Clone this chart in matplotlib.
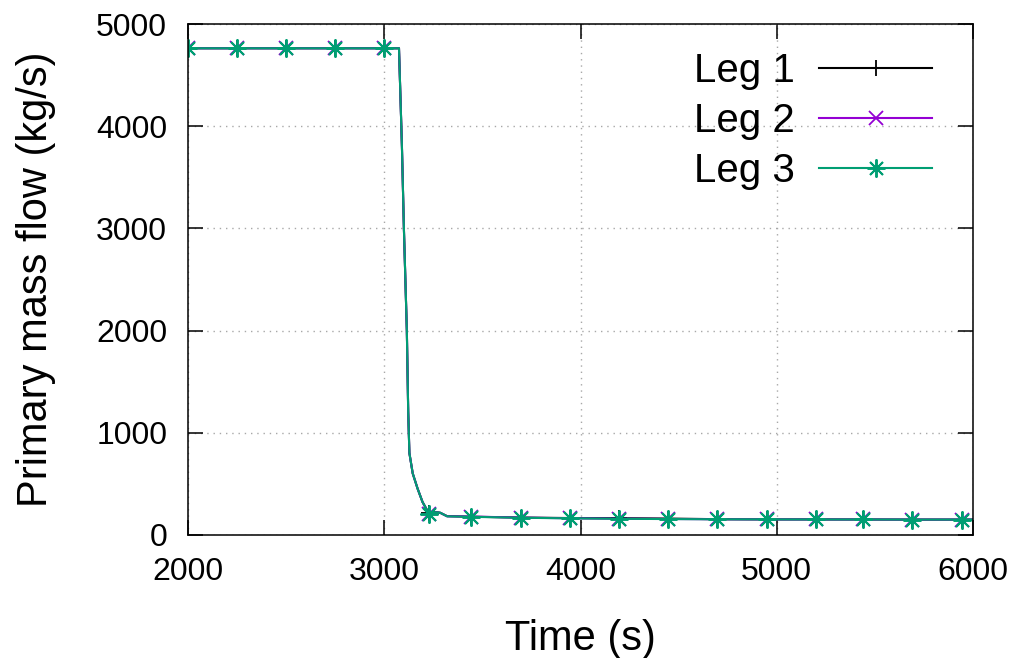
import numpy as np
import matplotlib.pyplot as plt

plt.rcParams['font.family'] = ['Liberation Sans', 'DejaVu Sans']

# time (s) and primary mass flow (kg/s)
time = [2000, 2250, 2500, 2750, 3000, 3075, 3090, 3100, 3115, 3122, 3128, 3145,
        3170, 3195, 3228, 3260, 3285, 3320, 3442, 3697, 3946, 4196, 4446, 4696,
        4950, 5200, 5440, 5690, 5944, 6000]
leg1 = [4765, 4765, 4765, 4765, 4765, 4765, 3800, 3000, 2000, 1200, 800, 600,
        450, 320, 208, 222, 215, 182, 176, 168, 163, 162, 158, 152,
        150, 150, 149, 148, 148, 148]
leg2 = [4765, 4765, 4765, 4765, 4765, 4765, 3800, 3000, 2000, 1200, 800, 600,
        450, 320, 200, 220, 214, 180, 178, 167, 161, 157, 154, 151,
        150, 149, 149, 148, 148, 148]
leg3 = [4765, 4765, 4765, 4765, 4765, 4765, 3800, 3000, 2000, 1200, 800, 600,
        450, 320, 205, 220, 215, 180, 175, 166, 160, 156, 153, 151,
        150, 149, 149, 148, 148, 148]
marker_times = [2000, 2250, 2500, 2750, 3000, 3228, 3442, 3697, 3946, 4196,
                4446, 4696, 4950, 5200, 5440, 5690, 5944]
labels = ['Leg 1', 'Leg 2', 'Leg 3']

marks = [time.index(t) for t in marker_times]

fig = plt.figure(figsize=(10.17, 6.58), dpi=100)
ax = fig.add_axes([0.1849, 0.1874, 0.7718, 0.7757])

ax.plot(time, leg1, color='black', lw=1.5, marker='+', ms=12, mew=1.3,
        markevery=marks, label=labels[0])
ax.plot(time, leg2, color='#9400d3', lw=1.5, marker='x', ms=10, mew=1.3,
        markevery=marks, label=labels[1])
ax.plot(time, leg3, color='#009e73', lw=1.5, marker=(8, 2, 0), ms=13, mew=1.4,
        markevery=marks, label=labels[2])

ax.set_xlim(2000, 6000)
ax.set_ylim(0, 5000)
ax.set_xticks([2000, 3000, 4000, 5000, 6000])
ax.set_yticks([0, 1000, 2000, 3000, 4000, 5000])
ax.grid(True, color='#a8a8a8', lw=1, linestyle=(0, (1, 3.5)))
ax.tick_params(direction='in', length=11, width=1.1, top=True, right=True,
               labelsize=23, pad=15)
ax.tick_params(axis='x', pad=16)
for s in ax.spines.values():
    s.set_linewidth(1.1)

ax.set_xlabel('Time (s)', fontsize=30, labelpad=23)
ax.set_ylabel('Primary mass flow (kg/s)', fontsize=30, labelpad=29)

ax.legend(loc='upper right', bbox_to_anchor=(1 - 41 / 785, 0.946),
          frameon=False, fontsize=29, markerfirst=False, numpoints=1,
          handlelength=2.8, handletextpad=0.6, labelspacing=0.3,
          borderpad=0, borderaxespad=0)

fig.savefig('out.png')
